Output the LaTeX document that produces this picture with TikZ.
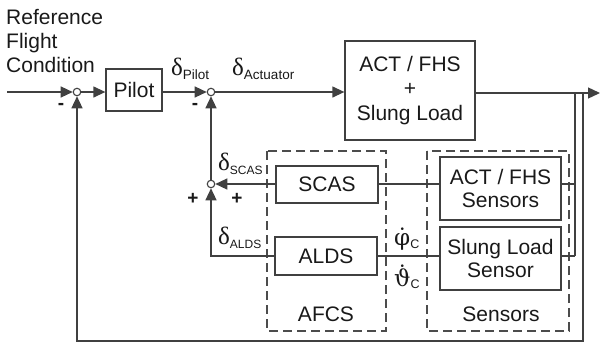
\documentclass[tikz,border=0pt]{standalone}
\usepackage{fontspec}
\setmainfont{Liberation Sans}
\newfontfamily\grk{Liberation Serif}
\newfontfamily\grkd{DejaVu Serif}
\usetikzlibrary{arrows.meta}
\newcommand\fs[1]{\fontsize{#1}{#1}\selectfont}
\newcommand\dsym[3]{{\grk\fs{25}δ}\raisebox{-4pt}{\fs{#1}#2}#3}
\newcommand\mydotover[2]{\leavevmode\setbox0\hbox{#1}\rlap{\hbox to\wd0{\hss\raisebox{#2}{˙}\hss}}\box0}
\begin{document}
\begin{tikzpicture}[x=1pt,y=-1pt,
  wire/.style={line width=1.3pt, draw=black!75},
  arr/.style={wire,-{Triangle[length=12pt,width=11pt]}},
  blk/.style={draw=black!75,line width=1.3pt,inner sep=0pt,align=center,text=black!90,font=\fontsize{21}{24.5}\selectfont},
  sumj/.style={circle,draw=black!75,fill=white,line width=1.1pt,inner sep=0pt,minimum size=7.5pt},
  grp/.style={draw=black!70,line width=1.3pt,dash pattern=on 9pt off 5pt},
  lbl/.style={inner sep=0pt,text=black!90,font=\fontsize{21}{24}\selectfont},
  sgn/.style={inner sep=0pt,text=black!90,font=\bfseries\fontsize{19}{19}\selectfont}]
\useasboundingbox (0,0) rectangle (600,343);
% groups
\draw[grp] (267,151) rectangle (386,331);
\draw[grp] (427,151) rectangle (569,331);
\node[lbl] (afcs) at (326,314.5) {AFCS};
\node[lbl] (sensl) at (501,314.5) {Sensors};
% blocks
\node[blk,minimum width=56pt,minimum height=42pt] (pilot) at (134,90) {Pilot};
\node[blk,minimum width=130pt,minimum height=99pt] (act) at (410,90.5) {ACT / FHS\\+\\Slung Load};
\node[blk,minimum width=102pt,minimum height=37pt] (scas) at (327,184.5) {SCAS};
\node[blk,minimum width=102pt,minimum height=38pt] (alds) at (326,256) {ALDS};
\node[blk,minimum width=121pt,minimum height=63pt,font=\fontsize{21}{23}\selectfont] (sens1) at (500.5,188.5) {ACT / FHS\\Sensors};
\node[blk,minimum width=121pt,minimum height=63pt,font=\fontsize{21}{23}\selectfont] (sens2) at (500.5,258.5) {Slung Load\\Sensor};
% junctions
\node[sumj] (j1) at (77,92) {};
\node[sumj] (j2) at (211,92) {};
\node[sumj] (j3) at (211,184) {};
% coordinates
\coordinate (in) at (7,92);
\coordinate (out) at (600,93);
\coordinate (t1) at (575,93);
\coordinate (t2) at (583,93);
\coordinate (b1) at (583,341);
\coordinate (b2) at (77,341);
\coordinate (s1) at (575,184);
\coordinate (s2) at (575,256);
% connectors
\draw[arr] (in) -- (j1.west);
\draw[arr] (j1.east) -- (pilot.west |- j1);
\draw[arr] (pilot.east |- j2) -- (j2.west);
\draw[arr] (j2.east) -- (j2.east -| act.west);
\draw[arr] (act.east |- out) -- (out);
\draw[wire] (t1) -- (s2);
\draw[wire] (sens1.east |- s1) -- (s1);
\draw[wire] (sens2.east |- s2) -- (s2);
\draw[arr] (t2) -- (b1) -- (b2) -- (j1.south);
\draw[wire] (sens1.west |- s1) -- (scas.east |- s1);
\draw[wire] (sens2.west |- s2) -- (alds.east |- s2);
\draw[arr] (scas.west |- j3) -- (j3.east);
\draw[arr] (alds.west) -| (j3.south);
\draw[arr] (j3.north) -- (j2.south);
% labels
\node[lbl,anchor=north west,align=left] (ref) at (6,9) {Reference\\Flight\\Condition};
\node[lbl,anchor=base west] (dp) at (171,75) {\dsym{13.5}{Pilot}{}};
\node[lbl,anchor=base west] (da) at (232,75) {\dsym{13.5}{Actuator}{}};
\node[lbl,anchor=base west] (ds) at (218,170) {\dsym{12}{SCAS}{}};
\node[lbl,anchor=base west] (dl) at (218,244) {\dsym{12}{ALDS}{}};
\node[lbl,anchor=base west] (phi) at (394,245) {{\grkd\fs{23}\mydotover{φ}{0pt}}\raisebox{-3pt}{\fs{12.5}C}};
\node[lbl,anchor=base west] (tht) at (394,286) {{\grkd\fs{23}\mydotover{ϑ}{4pt}}\raisebox{-2pt}{\fs{12.5}C}};
\node[sgn] (m1) at (61,106) {-};
\node[sgn] (m2) at (195,106) {-};
\node[sgn] (p1) at (193,199) {+};
\node[sgn] (p2) at (237,199) {+};
\end{tikzpicture}
\end{document}
